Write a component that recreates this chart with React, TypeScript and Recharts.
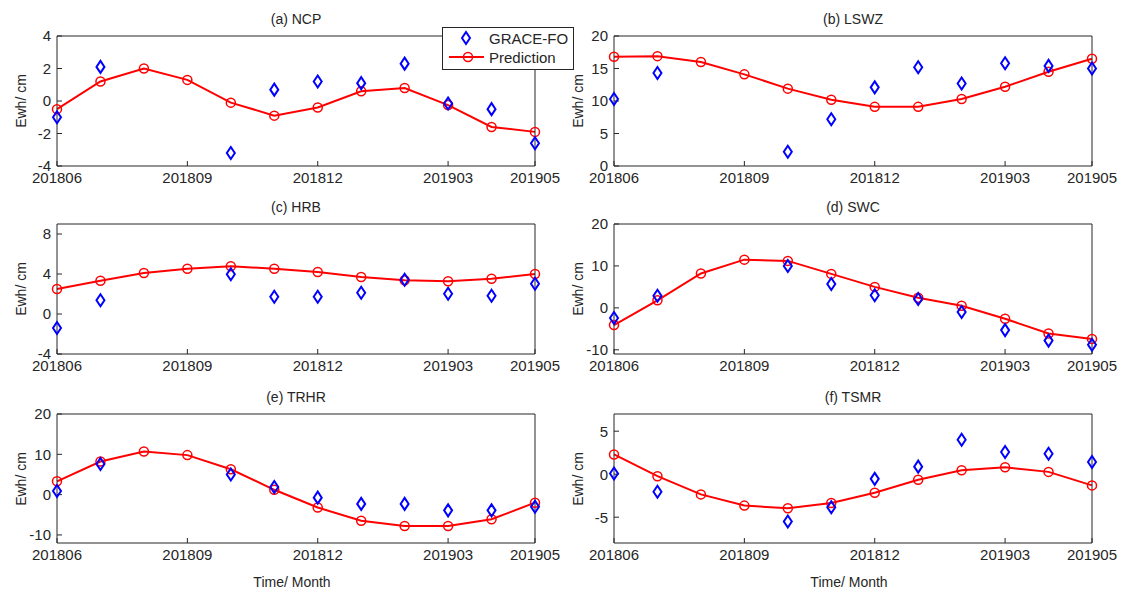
import React from 'react';
import { ComposedChart, Line, XAxis, YAxis } from 'recharts';

const months = ['201806', '201807', '201808', '201809', '201810', '201811', '201812', '201901', '201902', '201903', '201904', '201905'];
const tickLabels = ['201806', '201809', '201812', '201903', '201905'];

const ncpGrace = [-1.0, 2.1, null, null, -3.2, 0.7, 1.2, 1.1, 2.3, -0.15, -0.5, -2.6];
const ncpPred = [-0.5, 1.2, 2.0, 1.3, -0.1, -0.9, -0.4, 0.6, 0.8, -0.25, -1.6, -1.9];

const lswzGrace = [10.3, 14.3, null, null, 2.2, 7.2, 12.1, 15.2, 12.7, 15.8, 15.4, 15.0];
const lswzPred = [16.8, 16.9, 16.0, 14.1, 11.9, 10.2, 9.1, 9.1, 10.3, 12.2, 14.5, 16.5];

const hrbGrace = [-1.4, 1.37, null, null, 3.97, 1.73, 1.73, 2.13, 3.43, 2.03, 1.83, 3.03];
const hrbPred = [2.5, 3.33, 4.1, 4.53, 4.77, 4.53, 4.2, 3.7, 3.37, 3.27, 3.53, 4.0];

const swcGrace = [-2.4, 2.9, null, null, 10.0, 5.7, 3.0, 2.1, -1.0, -5.3, -7.8, -8.8];
const swcPred = [-4.1, 1.8, 8.2, 11.5, 11.2, 8.1, 5.0, 2.4, 0.5, -2.6, -6.1, -7.4];

const trhrGrace = [0.9, 7.6, null, null, 5.0, 1.9, -0.75, -2.3, -2.3, -3.9, -3.9, -3.0];
const trhrPred = [3.3, 8.2, 10.7, 9.8, 6.3, 1.2, -3.2, -6.5, -7.8, -7.8, -6.1, -2.0];

const tsmrGrace = [0.08, -2.04, null, null, -5.5, -3.85, -0.54, 0.88, 4.0, 2.58, 2.38, 1.42];
const tsmrPred = [2.3, -0.23, -2.35, -3.65, -3.96, -3.35, -2.15, -0.65, 0.46, 0.8, 0.27, -1.3];

const titles = ['(a) NCP', '(b) LSWZ', '(c) HRB', '(d) SWC', '(e) TRHR', '(f) TSMR'];
const yDomains: [number, number][] = [[-4, 4], [0, 20], [-4, 9], [-11, 20], [-12, 20], [-8, 7]];
const yTickSets = [[-4, -2, 0, 2, 4], [0, 5, 10, 15, 20], [-4, 0, 4, 8], [-10, 0, 10, 20], [-10, 0, 10, 20], [-5, 0, 5]];
const graceSeries = [ncpGrace, lswzGrace, hrbGrace, swcGrace, trhrGrace, tsmrGrace];
const predSeries = [ncpPred, lswzPred, hrbPred, swcPred, trhrPred, tsmrPred];

const AX = '#262626';
const TXT = '#262626';
const RED = '#FF0000';
const BLUE = '#0000FF';
const FONT = '"Liberation Sans", Arial, sans-serif';

const layout = [
  { left: 57, top: 36, w: 478, h: 130 },
  { left: 614, top: 36, w: 478, h: 130 },
  { left: 57, top: 224, w: 478, h: 130 },
  { left: 614, top: 224, w: 478, h: 130 },
  { left: 57, top: 414, w: 478, h: 129 },
  { left: 614, top: 414, w: 478, h: 129 },
];

const Diamond = (props: any) => {
  const { cx, cy, index } = props;
  if (cx == null || cy == null || isNaN(cx) || isNaN(cy)) return <g key={`dg-${index}`} />;
  return (
    <path
      key={`dg-${index}`}
      d={`M${cx},${cy - 6} L${cx + 4},${cy} L${cx},${cy + 6} L${cx - 4},${cy} Z`}
      fill="none"
      stroke={BLUE}
      strokeWidth={2}
    />
  );
};

const Circ = (props: any) => {
  const { cx, cy, index } = props;
  if (cx == null || cy == null || isNaN(cx) || isNaN(cy)) return <g key={`dc-${index}`} />;
  return <circle key={`dc-${index}`} cx={cx} cy={cy} r={4.5} fill="none" stroke={RED} strokeWidth={1.5} />;
};

function Panel({ idx, showX }: { idx: number; showX: boolean }) {
  const L = layout[idx];
  const grace = graceSeries[idx];
  const pred = predSeries[idx];
  const data = months.map((m, i) => ({ month: m, grace: grace[i], pred: pred[i] }));
  const ML = 50, MT = 10, MR = 30, MB = 30;
  const width = L.w + ML + MR;
  const height = L.h + MT + 1 + MB;
  const cx = L.left + L.w / 2;
  const cy = L.top + L.h / 2;
  return (
    <>
      <div style={{ position: 'absolute', left: L.left - ML, top: L.top - MT - 1 }}>
        <ComposedChart width={width} height={height} data={data} margin={{ top: MT, right: MR - 1, bottom: 0, left: 0 }}>
          <XAxis
            dataKey="month"
            type="category"
            scale="point"
            ticks={tickLabels}
            interval={0}
            height={MB}
            tickSize={-5}
            tickMargin={11}
            padding={{ left: 0, right: 0 }}
            axisLine={{ stroke: AX }}
            tickLine={{ stroke: AX }}
            tick={{ fill: TXT, fontSize: 15, fontFamily: FONT }}
          />
          <XAxis
            xAxisId="top"
            orientation="top"
            dataKey="month"
            type="category"
            scale="point"
            ticks={tickLabels}
            interval={0}
            height={1}
            tickSize={-5}
            padding={{ left: 0, right: 0 }}
            axisLine={{ stroke: AX }}
            tickLine={{ stroke: AX }}
            tick={false}
          />
          <YAxis
            type="number"
            domain={yDomains[idx]}
            ticks={yTickSets[idx]}
            interval={0}
            width={ML}
            tickSize={-5}
            tickMargin={11}
            allowDataOverflow
            axisLine={{ stroke: AX }}
            tickLine={{ stroke: AX }}
            tick={{ fill: TXT, fontSize: 15, fontFamily: FONT }}
          />
          <YAxis
            yAxisId="right"
            orientation="right"
            type="number"
            domain={yDomains[idx]}
            ticks={yTickSets[idx]}
            interval={0}
            width={1}
            tickSize={-5}
            allowDataOverflow
            axisLine={{ stroke: AX }}
            tickLine={{ stroke: AX }}
            tick={false}
          />
          <Line
            dataKey="pred"
            type="linear"
            stroke={RED}
            strokeWidth={2}
            dot={Circ}
            activeDot={false}
            isAnimationActive={false}
          />
          <Line
            dataKey="grace"
            type="linear"
            stroke="none"
            strokeWidth={0}
            dot={Diamond}
            activeDot={false}
            isAnimationActive={false}
          />
        </ComposedChart>
      </div>
      <div
        style={{
          position: 'absolute', left: cx, top: L.top - 17, transform: 'translate(-50%, -50%)',
          fontSize: 14, color: TXT, whiteSpace: 'nowrap', fontFamily: FONT,
        }}
      >
        {titles[idx]}
      </div>
      <div
        style={{
          position: 'absolute', left: L.left - 36, top: cy, transform: 'translate(-50%, -50%) rotate(-90deg)',
          fontSize: 14, color: TXT, whiteSpace: 'nowrap', fontFamily: FONT,
        }}
      >
        Ewh/ cm
      </div>
      {showX && (
        <div
          style={{
            position: 'absolute', left: cx - 4, top: 582, transform: 'translate(-50%, -50%)',
            fontSize: 14, color: TXT, whiteSpace: 'nowrap', fontFamily: FONT,
          }}
        >
          Time/ Month
        </div>
      )}
    </>
  );
}

function LegendBox() {
  return (
    <div
      style={{
        position: 'absolute', left: 442, top: 27, width: 130, height: 41,
        border: `1px solid ${AX}`, background: '#fff', zIndex: 10, fontFamily: FONT,
      }}
    >
      <svg width={46} height={41} style={{ position: 'absolute', left: 0, top: 0 }}>
        <path d="M23,4 L27,10 L23,16 L19,10 Z" fill="none" stroke={BLUE} strokeWidth={2} />
        <line x1={6} y1={29} x2={41} y2={29} stroke={RED} strokeWidth={2} />
        <circle cx={25} cy={29} r={4.5} fill="none" stroke={RED} strokeWidth={1.5} />
      </svg>
      <div style={{ position: 'absolute', left: 46, top: 10, transform: 'translateY(-50%)', fontSize: 15, color: TXT, whiteSpace: 'nowrap' }}>
        GRACE-FO
      </div>
      <div style={{ position: 'absolute', left: 46, top: 29, transform: 'translateY(-50%)', fontSize: 15, color: TXT, whiteSpace: 'nowrap' }}>
        Prediction
      </div>
    </div>
  );
}

export default function App() {
  return (
    <div
      style={{
        position: 'absolute', left: 0, top: 0, width: 1122, height: 592,
        background: '#fff', overflow: 'hidden', fontFamily: FONT,
      }}
    >
      {[0, 1, 2, 3, 4, 5].map((i) => (
        <Panel key={i} idx={i} showX={i >= 4} />
      ))}
      <LegendBox />
    </div>
  );
}
